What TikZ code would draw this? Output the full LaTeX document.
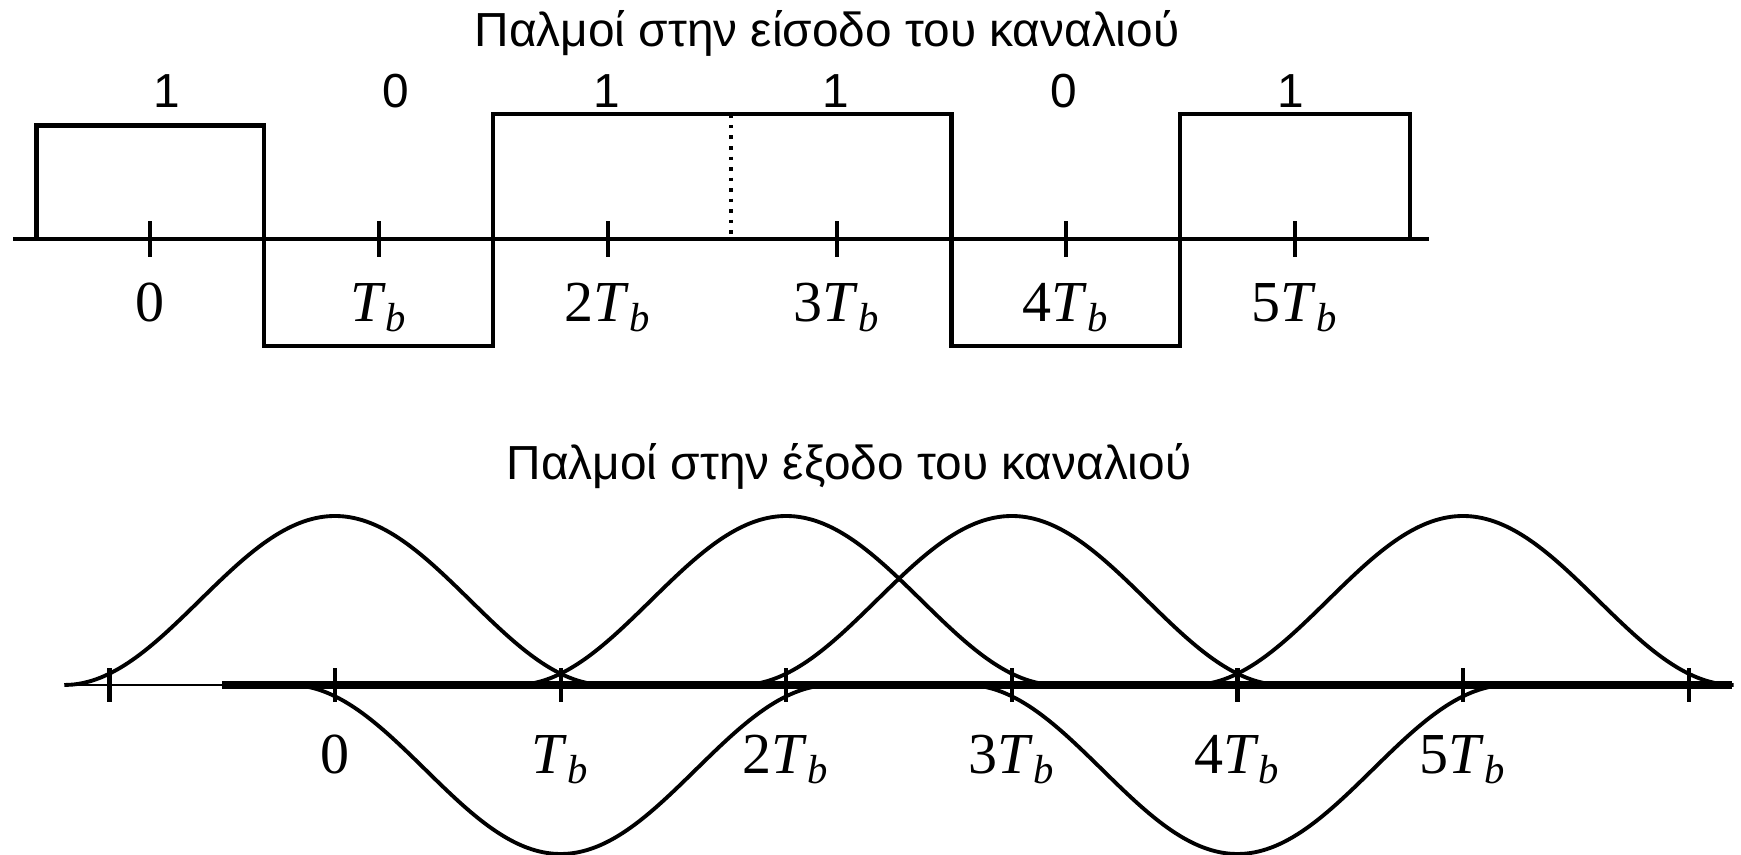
\documentclass[tikz,border=0pt]{standalone}
\usepackage{fontspec}
\setmainfont{Liberation Serif}
\newfontfamily\sansgr{Liberation Sans}
\usetikzlibrary{positioning}

\newcommand{\tbl}[1]{#1\textit{T}\textsubscript{\textit{b}}}

\begin{document}
\begin{tikzpicture}[
    signal/.style={line width=1.2pt},
    pulse/.style={line width=1.1pt},
    axisline/.style={line width=1.2pt},
    label/.style={font=\sansgr\fontsize{13.6}{16}\selectfont, anchor=base},
    ticklabel/.style={font=\fontsize{16.5}{19}\selectfont, anchor=base}
]
\useasboundingbox (0,0) rectangle (17.41,8.55);

% Input pulses
\def\Tb{2.29}
\def\xo{1.50}
\def\ya{6.16}

\node[label] (titlein) at (8.27,8.08) {Παλμοί στην είσοδο του καναλιού};

\draw[axisline] (0.13,\ya) -- (14.29,\ya);

\foreach \k/\txt in {0/0,1/\tbl{},2/\tbl{2},3/\tbl{3},4/\tbl{4},5/\tbl{5}} {
    \draw[axisline] ({\xo+\k*\Tb},\ya-0.18) -- ({\xo+\k*\Tb},\ya+0.18);
    \node[ticklabel] (in\k) at ({\xo+\k*\Tb},5.33) {\txt};
}

% Bits
\foreach \x/\bit [count=\i] in {1.67/1,3.96/0,6.07/1,8.36/1,10.64/0,12.91/1} {
    \node[label] (bit\i) at (\x,7.47) {\bit};
}

% Signal
\draw[signal] (0.366,\ya) -- (0.366,7.295) -- (2.643,7.295) -- (2.643,5.086)
    -- (4.93,5.086) -- (4.93,7.406) -- (9.515,7.406) -- (9.515,5.086)
    -- (11.80,5.086) -- (11.80,7.406) -- (14.10,7.406) -- (14.10,\ya);
\draw[dotted, line width=1pt] (7.31,7.406) -- (7.31,6.19);

% Output pulses
\def\Tbb{2.256}
\def\xb{3.35}
\def\yb{1.70}
\def\A{1.69}

\node[label] (titleout) at (8.49,3.75) {Παλμοί στην έξοδο του καναλιού};

\draw[line width=0.7pt] (0.67,\yb) -- (2.22,\yb);
\draw[line width=2pt] (2.22,\yb) -- (17.32,\yb);

\foreach \k in {-1,...,6} {
    \draw[axisline] ({\xb+\k*\Tbb},\yb-0.17) -- ({\xb+\k*\Tbb},\yb+0.17);
}
\foreach \k/\txt in {0/0,1/\tbl{},2/\tbl{2},3/\tbl{3},4/\tbl{4},5/\tbl{5}} {
    \node[ticklabel] (out\k) at ({\xb+\k*\Tbb},0.81) {\txt};
}

\foreach \k/\s in {0/1,1/-1,2/1,3/1,4/-1,5/1} {
    \draw[pulse] plot[domain=-1.2:1.2, samples=61, smooth]
        ({\xb+(\k+\x)*\Tbb}, {\yb+\s*\A*(1+cos(180*\x/1.2))/2});
}

\end{tikzpicture}
\end{document}
